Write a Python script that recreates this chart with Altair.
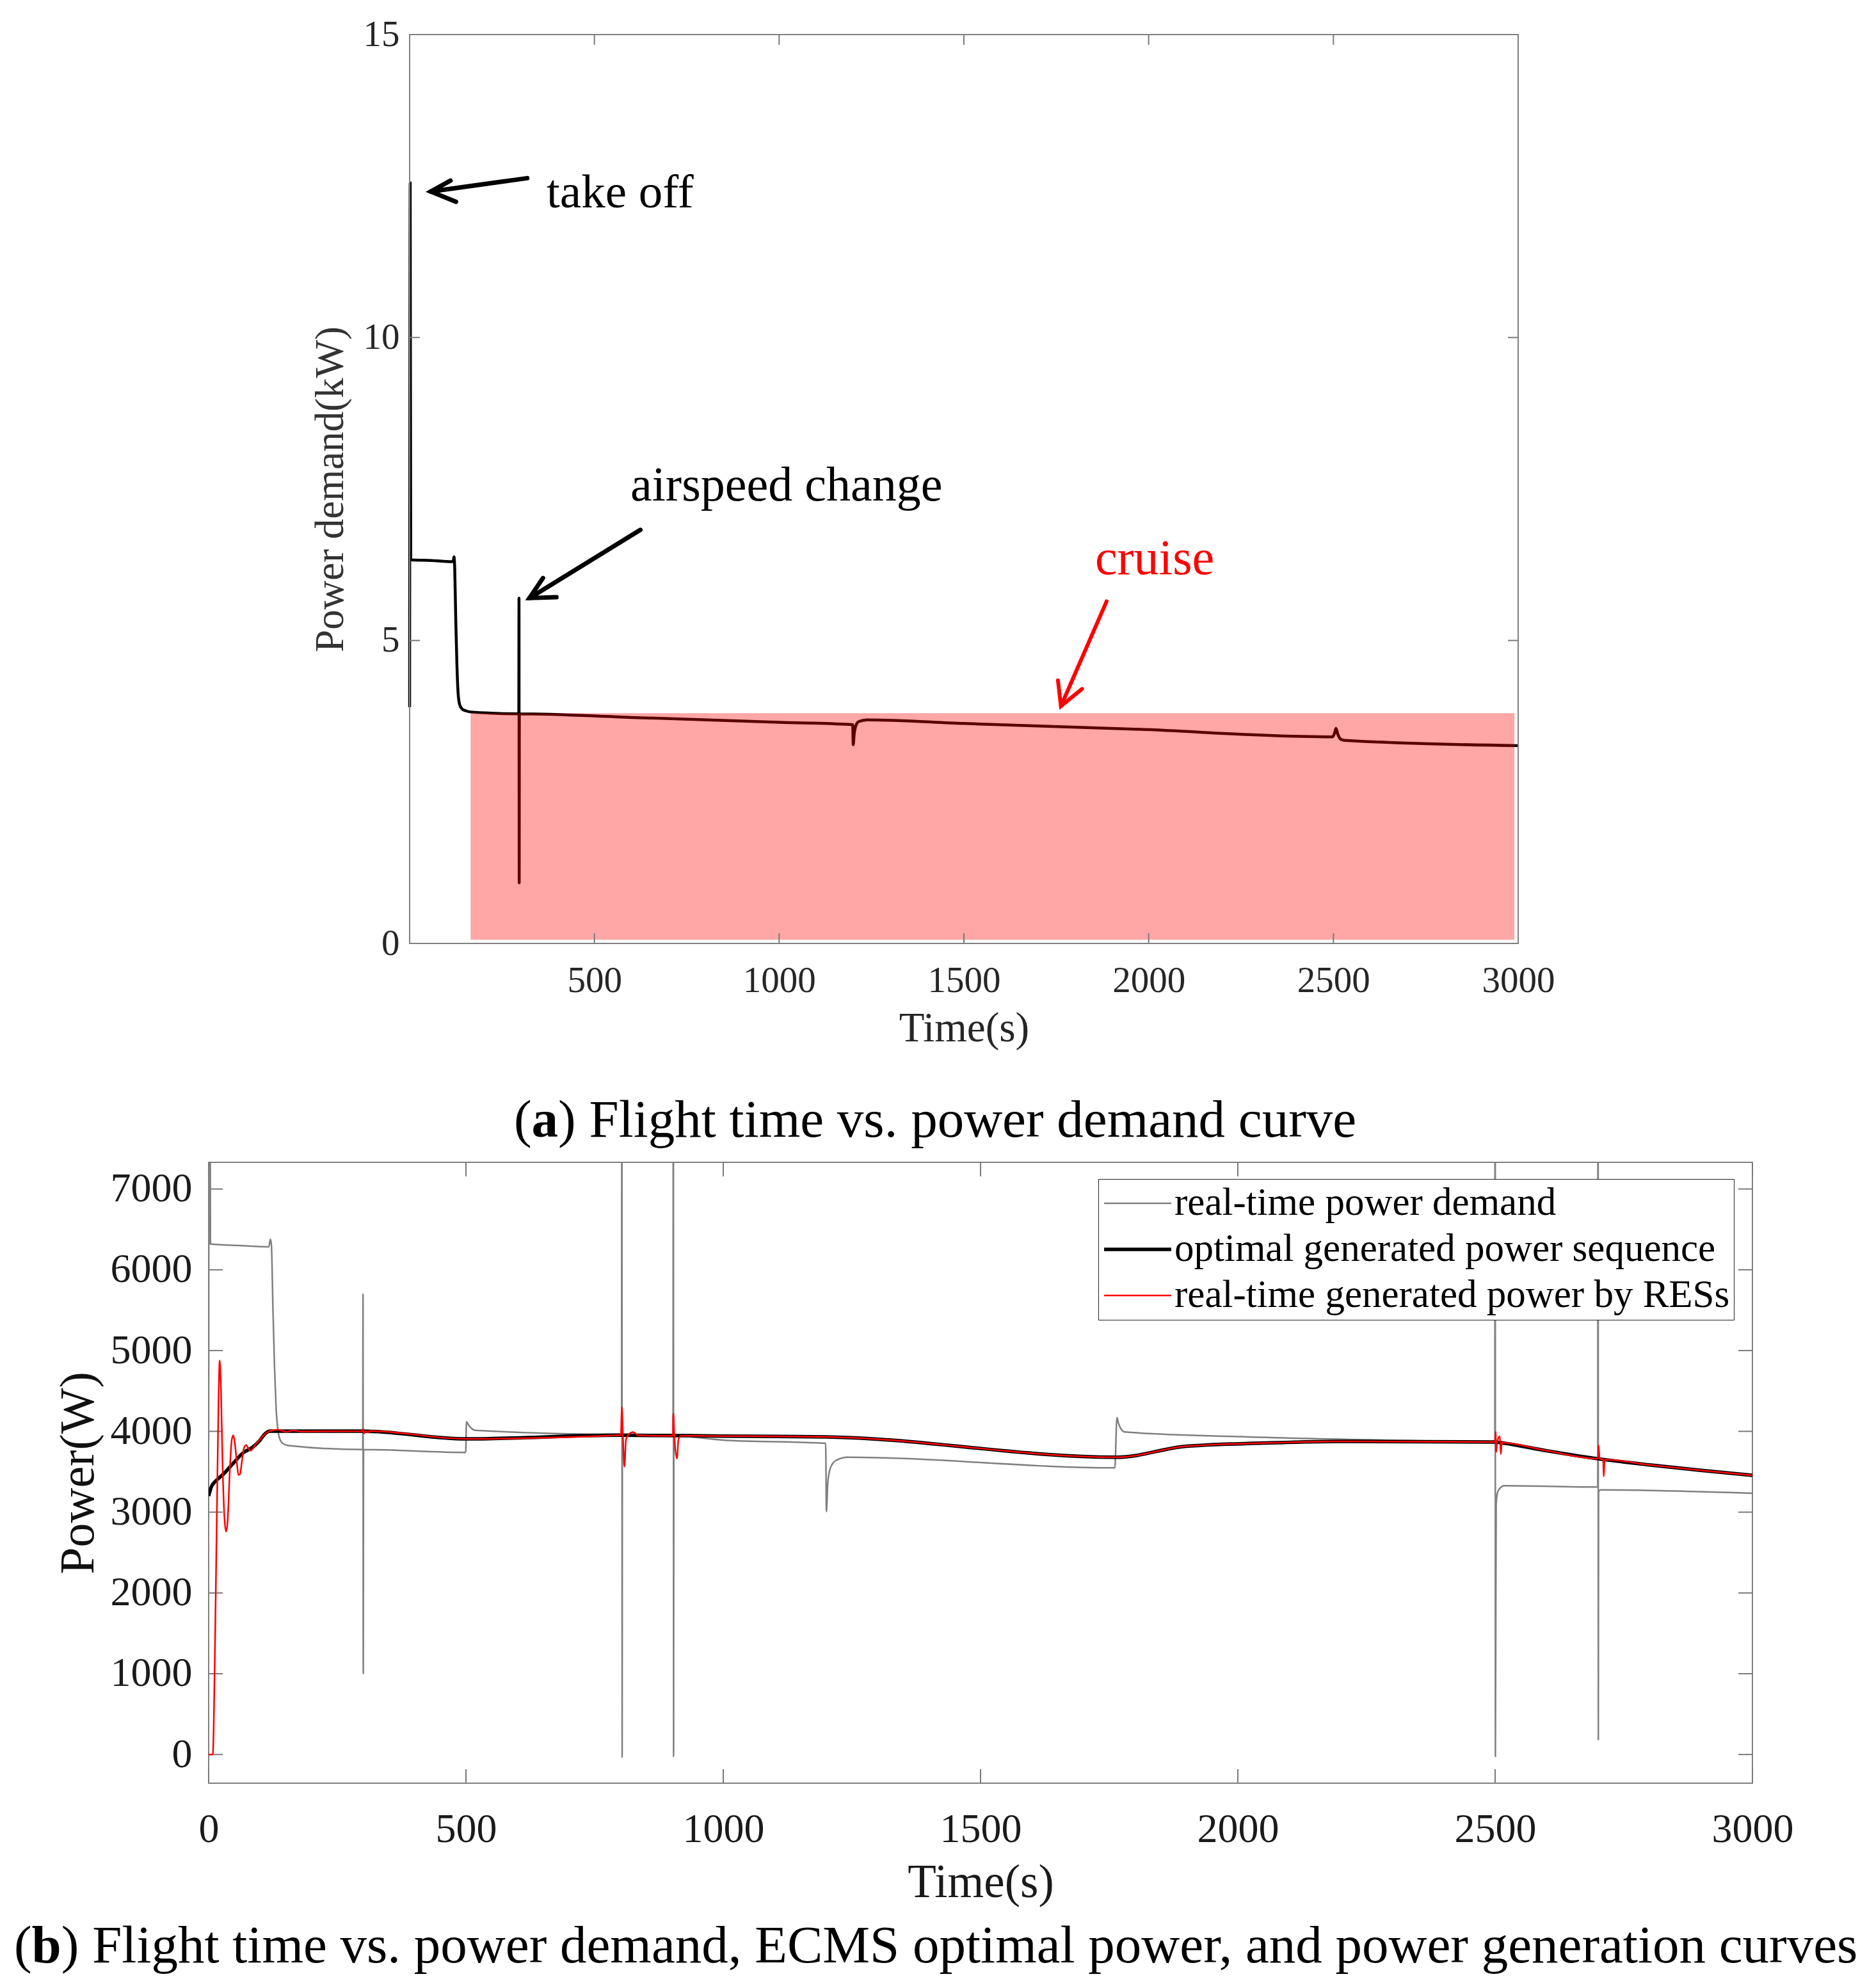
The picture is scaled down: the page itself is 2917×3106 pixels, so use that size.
import altair as alt
import pandas as pd

FONT = "Liberation Serif"

# ---------------- (a) power demand curve ----------------
top_t = [0, 1.5, 3, 5, 60, 114, 118, 120, 122, 125,
         128, 131, 135, 142, 152, 166, 295.5, 296, 296.5, 297,
         600, 1000, 1199, 1200.5, 1203, 1208, 1215, 1238, 1500, 1949,
         2498, 2503, 2507, 2512, 2520, 2531, 3000]
top_kw = [3.9, 12.55, 6.35, 6.33, 6.32, 6.30, 6.31, 6.38, 6.2, 5.3,
          4.6, 4.15, 3.95, 3.87, 3.84, 3.82, 3.79, 5.70, 1.0, 3.79,
          3.73, 3.65, 3.61, 3.28, 3.45, 3.6, 3.66, 3.69, 3.63, 3.54,
          3.41, 3.47, 3.55, 3.45, 3.37, 3.35, 3.265]

cruise_t0 = [165]
cruise_t1 = [2990]
cruise_k0 = [0.06]
cruise_k1 = [3.80]

top_x_ticks = [500, 1000, 1500, 2000, 2500, 3000]
top_y_ticks = [0, 5, 10, 15]

ann_text = ["take off", "airspeed change", "cruise"]
ann_t = [370.7, 597.6, 1855]
ann_kw = [12.15, 7.31, 6.10]
ann_col = ["black", "black", "#ff0000"]
ann_fs = [75, 76, 78]

# arrows: tail, tip, arm1, arm2 (time, kW)
arr_tail = [(318.3, 12.63), (624.6, 6.826), (1886.3, 5.647)]
arr_tip = [(57.2, 12.41), (324.4, 5.70), (1762.6, 3.917)]
arr_arm1 = [(110.7, 12.59), (360.8, 6.03), (1754.6, 4.341)]
arr_arm2 = [(125.4, 12.24), (397.3, 5.714), (1819.8, 4.20)]
arr_col = ["black", "black", "#ff0000"]
arr_w = [7, 7, 6]

# ---------------- (b) power curves ----------------
series_names = ["real-time power demand",
                "optimal generated power sequence",
                "real-time generated power by RESs"]

gray_t = [0, 1.5, 3.5, 10, 60, 117, 120, 122, 125, 128,
          131, 135, 140, 147, 155, 299.5, 300, 300.5, 301, 499.5,
          501, 505, 510, 518, 802.5, 803, 803.5, 804, 902.5, 903,
          903.5, 904, 1000, 1199, 1200.5, 1203, 1207, 1215, 1228, 1240,
          1761, 1765, 1768, 1773, 1780, 2000, 2300, 2499.5, 2500, 2500.5,
          2502, 2505, 2510, 2517, 2699.5, 2700, 2700.5, 2701, 2705, 3000]
gray_w = [3890, 12500, 6320, 6315, 6300, 6285, 6380, 6300, 5500, 4800,
          4300, 4000, 3880, 3840, 3825, 3775, 5700, 1000, 3775, 3740,
          4119, 4080, 4040, 4013, 3962, 12000, -30, 3960, 3945, 12000,
          -20, 3943, 3892, 3851, 3007, 3350, 3520, 3620, 3665, 3680,
          3548, 4170, 4100, 4030, 3993, 3935, 3890, 3870, 12000, -30,
          3100, 3250, 3300, 3328, 3311, 12000, 178, 3250, 3275, 3233]

black_t = [0, 5, 14, 30, 45, 69, 85, 97, 109, 118, 300, 500, 800, 1000, 1200,
           1765, 1900, 2050, 2200, 2500, 2510, 2600, 2700, 2800, 2900, 3000]
black_w = [3200, 3310, 3386, 3480, 3585, 3744, 3800, 3870, 3965, 4003, 4003, 3907, 3952, 3942, 3932,
           3679, 3816, 3855, 3876, 3867, 3860, 3760, 3661, 3585, 3518, 3456]

red_t = [0, 8, 12, 16, 19, 21.5, 24, 27, 31, 34,
         37, 41, 45, 48, 51, 55, 58, 61, 65, 69,
         73, 77, 81, 85, 90, 97, 109, 118, 135, 150,
         165, 180, 299, 300, 302, 305, 310, 312, 500, 801,
         803, 805, 808, 811, 816, 825, 835, 902, 903, 905,
         910, 913, 918, 1000, 1200, 1765, 1900, 2050, 2200, 2500,
         2501, 2502, 2504, 2509, 2511, 2513, 2600, 2700, 2701, 2703,
         2710, 2711, 2713, 2800, 2900, 3000]
red_w = [0, 0, 1200, 3000, 4300, 4877, 4500, 3600, 2900, 2760,
         2900, 3500, 3900, 3950, 3850, 3600, 3460, 3470, 3650, 3800,
         3830, 3790, 3760, 3780, 3830, 3880, 3965, 4003, 4020, 3995,
         4010, 3998, 4003, 4030, 3975, 4000, 3985, 4005, 3907, 3952,
         4296, 3950, 3563, 3900, 3960, 3990, 3950, 3945, 4220, 3940,
         3664, 3900, 3945, 3942, 3932, 3679, 3816, 3855, 3876, 3867,
         3994, 3744, 3867, 3939, 3717, 3860, 3760, 3661, 3828, 3661,
         3650, 3439, 3650, 3585, 3518, 3456]

bot_x_ticks = [0, 500, 1000, 1500, 2000, 2500, 3000]
bot_y_ticks = [0, 1000, 2000, 3000, 4000, 5000, 6000, 7000]

# ---------------- layout constants ----------------
X0 = 314            # left inset of panel (a) frame inside the shared column
W1, H1 = 1732, 1420
W2, H2 = 2412, 970
TICK_COL = "#7a7a7a"
FRAME_COL = "#808080"
one = pd.DataFrame({"a": [0]})


def helper_rule(**enc):
    return alt.Chart(one).mark_rule(color="white", strokeWidth=1).encode(**enc)


def text_piece(txt, x, y, bold=False, size=83):
    return alt.Chart(one).mark_text(
        text=txt, font=FONT, fontSize=size, align="left", baseline="middle",
        fontWeight="bold" if bold else "normal", color="black"
    ).encode(x=alt.value(x), y=alt.value(y))


# ================= top chart =================
xs1 = alt.Scale(domain=[0, 3000], range=[X0, X0 + W1], nice=False, zero=False)
ys1 = alt.Scale(domain=[0, 15], nice=False, zero=False)
ax1x = alt.Axis(values=top_x_ticks, format="d", ticks=False, tickSize=0, domain=False, grid=False,
                labelPadding=30, labelFont=FONT, labelFontSize=57, labelColor="#262626", labelFlush=False,
                title="Time(s)", titleFont=FONT, titleFontSize=65, titleFontWeight="normal",
                titleColor="#262626", titleX=X0 + W1 / 2, titleY=132, titleBaseline="middle")
ax1y = alt.Axis(values=top_y_ticks, format="d", ticks=False, tickSize=0, domain=False, grid=False, offset=-X0,
                labelPadding=16, labelFont=FONT, labelFontSize=57, labelColor="#262626", labelFlush=False,
                title="Power demand(kW)", titleFont=FONT, titleFontSize=63, titleFontWeight="normal",
                titleColor="#333333", titleX=-124, titleY=H1 / 2, titleBaseline="middle")


def X1(f):
    return alt.X(f, scale=xs1, axis=ax1x, title="Time(s)")


def Y1(f):
    return alt.Y(f, scale=ys1, axis=ax1y, title="Power demand(kW)")


top_df = pd.DataFrame({"t": top_t, "kw": top_kw})
line1 = alt.Chart(top_df).mark_line(color="black", strokeWidth=4.5, interpolate="monotone").encode(
    x=X1("t:Q"), y=Y1("kw:Q"))

cruise_df = pd.DataFrame({"t": cruise_t0, "t1": cruise_t1, "kw": cruise_k0, "kw1": cruise_k1})
cruise = alt.Chart(cruise_df).mark_rect(color="#ff0000", opacity=0.35).encode(
    x=X1("t:Q"), x2="t1:Q", y=Y1("kw:Q"), y2="kw1:Q")

xt1 = pd.DataFrame({"t": top_x_ticks})
yt1 = pd.DataFrame({"kw": top_y_ticks})
tick_b1 = alt.Chart(xt1).mark_rule(color=TICK_COL, strokeWidth=2).encode(
    x=X1("t:Q"), y=alt.value(H1), y2=alt.value(H1 - 16))
tick_t1 = alt.Chart(xt1).mark_rule(color=TICK_COL, strokeWidth=2).encode(
    x=X1("t:Q"), y=alt.value(0), y2=alt.value(16))
tick_l1 = alt.Chart(yt1).mark_rule(color=TICK_COL, strokeWidth=2).encode(
    y=Y1("kw:Q"), x=alt.value(X0), x2=alt.value(X0 + 16))
tick_r1 = alt.Chart(yt1).mark_rule(color=TICK_COL, strokeWidth=2).encode(
    y=Y1("kw:Q"), x=alt.value(X0 + W1), x2=alt.value(X0 + W1 - 16))

ann_df = pd.DataFrame({"t": ann_t, "kw": ann_kw, "label": ann_text, "col": ann_col, "fs": ann_fs})
ann = alt.Chart(ann_df).mark_text(align="left", baseline="alphabetic", font=FONT).encode(
    x=X1("t:Q"), y=Y1("kw:Q"),
    text="label:N", color=alt.Color("col:N", scale=None), size=alt.Size("fs:Q", scale=None))

rows = []
for i in range(len(arr_tail)):
    for o, p in enumerate([arr_tail[i], arr_tip[i]]):
        rows.append({"t": p[0], "kw": p[1], "seg": f"s{i}", "ord": o, "col": arr_col[i], "sw": arr_w[i]})
    for o, p in enumerate([arr_arm1[i], arr_tip[i], arr_arm2[i]]):
        rows.append({"t": p[0], "kw": p[1], "seg": f"h{i}", "ord": o, "col": arr_col[i], "sw": arr_w[i]})
arr_df = pd.DataFrame(rows)
arrows = alt.Chart(arr_df).mark_line(strokeCap="round", strokeJoin="miter").encode(
    x=X1("t:Q"), y=Y1("kw:Q"), detail="seg:N", order="ord:Q",
    color=alt.Color("col:N", scale=None), strokeWidth=alt.StrokeWidth("sw:Q", scale=None))

frame1 = alt.Chart(one).mark_rect(filled=False, stroke=FRAME_COL, strokeWidth=2).encode(
    x=alt.value(X0), x2=alt.value(X0 + W1), y=alt.value(0), y2=alt.value(H1))

top = alt.layer(
    line1, cruise, tick_b1, tick_t1, tick_l1, tick_r1, arrows, ann, frame1,
    helper_rule(x=alt.value(X0), y=alt.value(-45), y2=alt.value(-44)),
    helper_rule(x=alt.value(X0), y=alt.value(1758), y2=alt.value(1759)),
    text_piece("(", X0 + 163, 1697),
    text_piece("a", X0 + 190.6, 1697, bold=True),
    text_piece(") Flight time vs. power demand curve", X0 + 232.1, 1697),
).properties(width=X0 + W1, height=H1, view=alt.ViewBackground(stroke=None))

# ================= bottom chart =================
xs2 = alt.Scale(domain=[0, 3000], nice=False, zero=False)
ys2 = alt.Scale(domain=[-355, 7330], nice=False, zero=False)
cscale = alt.Scale(domain=series_names, range=["#808080", "#000000", "#ff0000"])
wscale = alt.Scale(type="ordinal", domain=series_names, range=[2.5, 5.5, 2.5])
leg = alt.Legend(orient="none", legendX=1390, legendY=26, title=None,
                 labelFont=FONT, labelFontSize=61, labelColor="black", labelLimit=0,
                 symbolType="stroke", symbolSize=11000, labelOffset=2,
                 clipHeight=64, rowPadding=8,
                 strokeColor="#222222", fillColor="white", padding=6)

ax2x = alt.Axis(values=bot_x_ticks, format="d", ticks=False, tickSize=0, domain=False, grid=False,
                labelPadding=40, labelFont=FONT, labelFontSize=64, labelColor="#1a1a1a", labelFlush=False,
                title="Time(s)", titleFont=FONT, titleFontSize=73, titleFontWeight="normal",
                titleColor="#1a1a1a", titleY=155, titleBaseline="middle")
ax2y = alt.Axis(values=bot_y_ticks, format="d", ticks=False, tickSize=0, domain=False, grid=False,
                labelPadding=26, labelFont=FONT, labelFontSize=64, labelColor="#1a1a1a", labelFlush=False,
                title="Power(W)", titleFont=FONT, titleFontSize=76, titleFontWeight="normal",
                titleColor="#111111", titleX=-204, titleY=H2 / 2, titleBaseline="middle")


def X2(f):
    return alt.X(f, scale=xs2, axis=ax2x, title="Time(s)")


def Y2(f):
    return alt.Y(f, scale=ys2, axis=ax2y, title="Power(W)")


def series_layer(ts, ws, name):
    df = pd.DataFrame({"t": ts, "w": ws, "series": name})
    return alt.Chart(df).mark_line(interpolate="monotone", clip=True).encode(
        x=X2("t:Q"), y=Y2("w:Q"),
        color=alt.Color("series:N", scale=cscale, legend=leg),
        strokeWidth=alt.StrokeWidth("series:N", scale=wscale, legend=leg),
    )


g_layer = series_layer(gray_t, gray_w, series_names[0])
b_layer = series_layer(black_t, black_w, series_names[1])
r_layer = series_layer(red_t, red_w, series_names[2])

xt2 = pd.DataFrame({"t": bot_x_ticks})
yt2 = pd.DataFrame({"w": bot_y_ticks})
tick_b2 = alt.Chart(xt2).mark_rule(color=TICK_COL, strokeWidth=2).encode(
    x=X2("t:Q"), y=alt.value(H2), y2=alt.value(H2 - 22))
tick_t2 = alt.Chart(xt2).mark_rule(color=TICK_COL, strokeWidth=2).encode(
    x=X2("t:Q"), y=alt.value(0), y2=alt.value(22))
tick_l2 = alt.Chart(yt2).mark_rule(color=TICK_COL, strokeWidth=2).encode(
    y=Y2("w:Q"), x=alt.value(0), x2=alt.value(22))
tick_r2 = alt.Chart(yt2).mark_rule(color=TICK_COL, strokeWidth=2).encode(
    y=Y2("w:Q"), x=alt.value(W2), x2=alt.value(W2 - 22))

bottom = alt.layer(
    tick_b2, tick_t2, tick_l2, tick_r2, g_layer, b_layer, r_layer,
    helper_rule(x=alt.value(-316), y=alt.value(500), y2=alt.value(501)),
    text_piece("(", -304, 1225),
    text_piece("b", -276.4, 1225, bold=True),
    text_piece(") Flight time vs. power demand, ECMS optimal power, and power generation curves", -230.2, 1225),
).properties(width=W2, height=H2, view=alt.ViewBackground(stroke=FRAME_COL, strokeWidth=2))

chart = alt.vconcat(top, bottom, spacing=0).resolve_scale(
    color="independent", strokeWidth="independent", size="independent"
).resolve_legend(
    color="independent", strokeWidth="independent", size="independent"
).properties(padding=0, background="white").configure(font=FONT)

chart.save("out.html", embed_options={"renderer": "svg", "actions": False})
